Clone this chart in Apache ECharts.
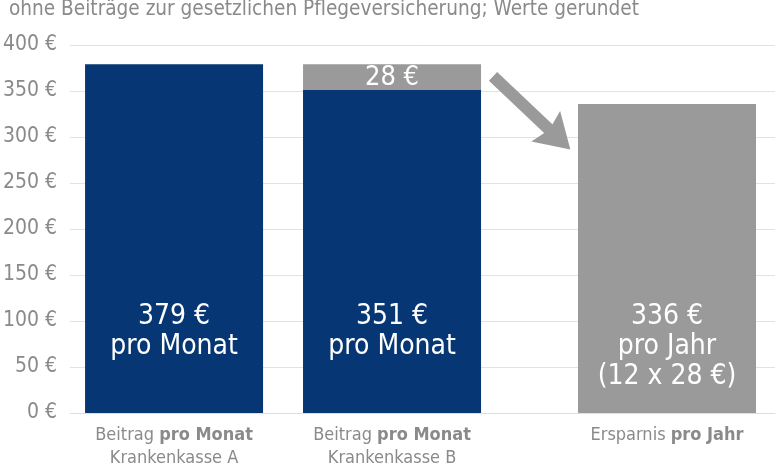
<!DOCTYPE html>
<html>
<head>
<meta charset="utf-8">
<script src="https://cdn.jsdelivr.net/npm/echarts@6/dist/echarts.min.js"></script>
<style>
  html, body { margin: 0; padding: 0; background: #fff; }
  #chart { width: 780px; height: 470px; }
</style>
</head>
<body>
<div id="chart"></div>
<script>
var FONT = '"Liberation Sans Narrow", "DejaVu Sans Condensed", sans-serif';

// data
var catLead = ['Beitrag', 'Beitrag', 'Ersparnis'];
var catBold = ['pro Monat', 'pro Monat', 'pro Jahr'];
var catSub = ['Krankenkasse A', 'Krankenkasse B', ''];
var monthly = [379, 351, null];
var difference = [null, 28, null];
var savings = [null, null, 336];
var yTicks = [0, 50, 100, 150, 200, 250, 300, 350, 400];

// bar centres on the hidden x scale (layout only)
var slots = [104, 322, 597];

function pick(values, fn) {
    var out = [];
    values.forEach(function (v, i) {
        if (v != null) out.push(fn(v, i));
    });
    return out;
}

var option = {
    animation: false,
    title: {
        text: 'ohne Beiträge zur gesetzlichen Pflegeversicherung; Werte gerundet',
        left: 4,
        top: -6,
        textStyle: { fontFamily: FONT, fontSize: 20.6, fontWeight: 'normal', color: '#8a8a8a' }
    },
    grid: { left: 70, right: 5, top: 45, bottom: 57 },
    xAxis: {
        type: 'value',
        min: 0,
        max: 705,
        splitLine: { show: false },
        axisTick: { show: false },
        axisLine: { show: true, lineStyle: { color: '#dedede', width: 1 } },
        axisLabel: {
            customValues: slots,
            margin: 11,
            fontFamily: FONT,
            fontSize: 18,
            lineHeight: 23,
            color: '#8a8a8a',
            formatter: function (v) {
                var i = slots.indexOf(v);
                if (i < 0) return '';
                var s = catLead[i] + ' {b|' + catBold[i] + '}';
                if (catSub[i]) s += '\n' + catSub[i];
                return s;
            },
            rich: {
                b: { fontFamily: FONT, fontSize: 18, fontWeight: 'bold', color: '#8a8a8a', lineHeight: 23 }
            }
        }
    },
    yAxis: {
        type: 'value',
        min: yTicks[0],
        max: yTicks[yTicks.length - 1],
        interval: yTicks[1] - yTicks[0],
        axisLine: { show: false },
        axisTick: { show: false },
        splitLine: { lineStyle: { color: '#e2e2e2', width: 1 } },
        axisLabel: {
            margin: 13,
            fontFamily: FONT,
            fontSize: 21,
            color: '#8a8a8a',
            formatter: '{value} €'
        }
    },
    series: [
        {
            name: 'Differenz',
            type: 'bar',
            barWidth: 178,
            barGap: '-100%',
            z: 2,
            itemStyle: { color: '#9a9a9a' },
            data: pick(difference, function (v, i) {
                return [slots[i], monthly[i] + v, v];
            }),
            label: {
                show: true,
                position: 'insideTop',
                distance: 1,
                fontFamily: FONT,
                fontSize: 27,
                lineHeight: 26,
                color: '#fff',
                formatter: function (p) { return p.value[2] + ' €'; }
            }
        },
        {
            name: 'Beitrag pro Monat',
            type: 'bar',
            barWidth: 178,
            barGap: '-100%',
            z: 3,
            itemStyle: { color: '#063673' },
            data: pick(monthly, function (v, i) { return [slots[i], v]; }),
            label: {
                show: true,
                position: 'insideBottom',
                distance: 51,
                fontFamily: FONT,
                fontSize: 28,
                lineHeight: 30,
                color: '#fff',
                formatter: function (p) { return p.value[1] + ' €\npro Monat'; }
            }
        },
        {
            name: 'Ersparnis pro Jahr',
            type: 'bar',
            barWidth: 178,
            barGap: '-100%',
            z: 3,
            itemStyle: { color: '#9a9a9a' },
            data: pick(savings, function (v, i) { return [slots[i], v]; }),
            label: {
                show: true,
                position: 'insideBottom',
                distance: 21,
                fontFamily: FONT,
                fontSize: 28,
                lineHeight: 30,
                color: '#fff',
                formatter: function (p) {
                    return p.value[1] + ' €\npro Jahr\n(12 x ' + difference[1] + ' €)';
                }
            },
            markLine: {
                silent: true,
                symbol: ['none', 'path://M20,0 L40,34 L20,29 L0,34 Z'],
                symbolSize: [42, 34],
                label: { show: false },
                lineStyle: { color: '#9a9a9a', width: 12, type: 'solid', cap: 'butt' },
                data: [[
                    { coord: [423, 366] },
                    { coord: [488, 299] }
                ]]
            }
        }
    ]
};

var myChart = echarts.init(document.getElementById('chart'));
myChart.setOption(option);
</script>
</body>
</html>
